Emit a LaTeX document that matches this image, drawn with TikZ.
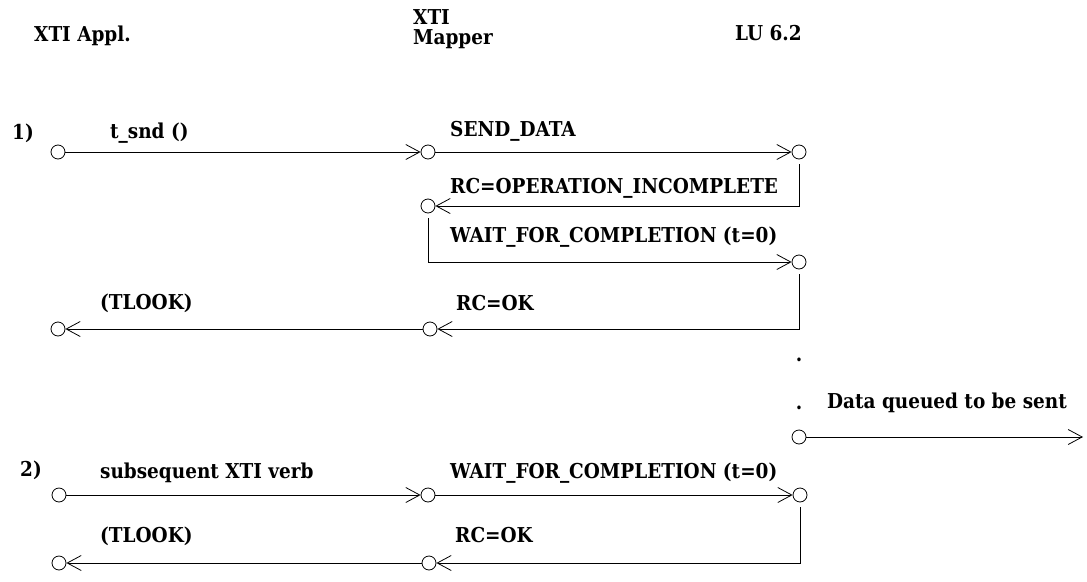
\documentclass[tikz,border=0pt]{standalone}
\usepackage{fontspec}
\setmainfont{DejaVu Serif Condensed}
\usetikzlibrary{arrows.meta}
\tikzset{
  port/.style={circle, draw, inner sep=0pt, minimum size=14pt, line width=0.8pt},
  msg/.style={-{Straight Barb[length=14pt,width=15pt]}, line width=0.8pt},
  drop/.style={msg, shorten <=5pt},
  lbl/.style={anchor=base west, inner sep=0pt, font=\fontsize{20.5}{24}\selectfont\bfseries}
}
\begin{document}
\begin{tikzpicture}[x=1pt, y=-1pt]
\useasboundingbox (0,0) rectangle (1087,581);
% column heads
\node[lbl] (happl) at (34,41) {XTI Appl.};
\node[lbl] (hxti) at (413,24) {XTI};
\node[lbl] (hmap) at (413,44) {Mapper};
\node[lbl] (hlu) at (735,40) {LU 6.2};

% case 1
\node[lbl] (n1) at (12,139) {1)};
\node[port] (a1) at (58,152) {};
\node[port] (m1) at (428,152) {};
\node[port] (l1) at (799,152) {};
\node[port] (m2) at (428,206) {};
\node[port] (l2) at (799,262) {};
\node[port] (m3) at (430,329) {};
\node[port] (a3) at (58,329) {};
\draw [msg] (a1) -- (m1);
\draw [msg] (m1) -- (l1);
\draw [drop] (l1) |- (m2);
\draw [drop] (m2) |- (l2);
\draw [drop] (l2) |- (m3);
\draw [msg] (m3) -- (a3);
\node[lbl] (tsnd) at (110,138) {t\_snd ()};
\node[lbl] (send) at (450,136) {SEND\_DATA};
\node[lbl] (rcinc) at (450,193) {RC=OPERATION\_INCOMPLETE};
\node[lbl] (wait1) at (450,242) {WAIT\_FOR\_COMPLETION (t=0)};
\node[lbl] (rcok1) at (456,310) {RC=OK};
\node[lbl] (tlook1) at (100,309) {(TLOOK)};

% queued data
\node[lbl, anchor=base] (dot1) at (799,361) {.};
\node[lbl, anchor=base] (dot2) at (799,409) {.};
\node[lbl] (queued) at (827,408) {Data queued to be sent};
\node[port] (q) at (799,437) {};
\coordinate (qend) at (1083,437);
\draw [msg] (q) -- (qend);

% case 2
\node[lbl] (n2) at (20,476) {2)};
\node[port] (a4) at (59,495) {};
\node[port] (m4) at (428,495) {};
\node[port] (l4) at (800,495) {};
\node[port] (m5) at (429,563) {};
\node[port] (a5) at (59,563) {};
\draw [msg] (a4) -- (m4);
\draw [msg] (m4) -- (l4);
\draw [drop] (l4) |- (m5);
\draw [msg] (m5) -- (a5);
\node[lbl] (subs) at (100,478) {subsequent XTI verb};
\node[lbl] (wait2) at (450,478) {WAIT\_FOR\_COMPLETION (t=0)};
\node[lbl] (rcok2) at (455,542) {RC=OK};
\node[lbl] (tlook2) at (100,542) {(TLOOK)};
\end{tikzpicture}
\end{document}
